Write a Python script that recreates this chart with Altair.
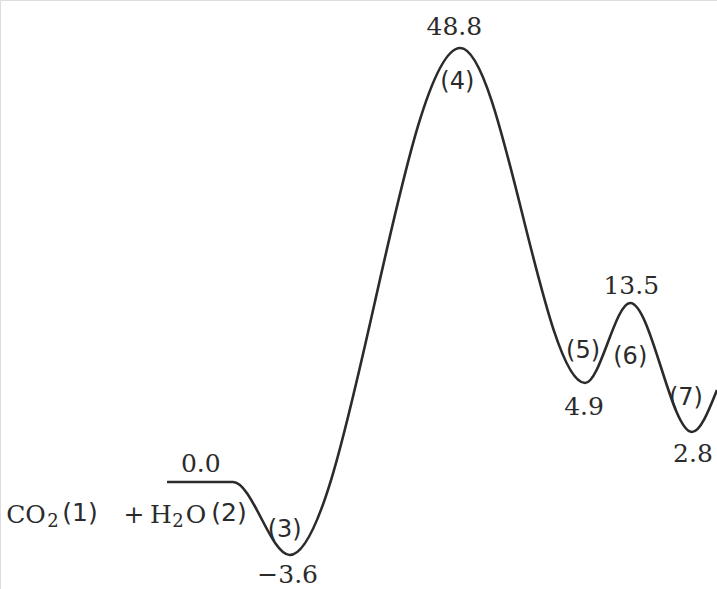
import altair as alt
import pandas as pd

# Stationary points of the energy profile (reaction coordinate, relative energy)
coord = [23.3, 32.5, 40.4, 64.2, 81.6, 87.9, 96.5, 100.0]
energy = [0.0, 0.0, -3.6, 48.8, 4.9, 13.5, 2.8, 4.6]

# Energy labels: where they sit along the coordinate and the value they state
label_coord = [28.0, 40.4, 64.2, 81.6, 87.9, 96.5]
label_energy = [0.0, -3.6, 48.8, 4.9, 13.5, 2.8]
label_shift = [(0, -18), (-2, 20), (-6, -21), (-1, 24), (1, -17), (1, 22)]

# Species numbers attached to the stationary points
species_text = ["(3)", "(4)", "(5)", "(6)", "(7)"]
species_coord = [40.4, 64.2, 81.6, 87.9, 96.5]
species_energy = [-3.6, 48.8, 4.9, 13.5, 2.8]
species_shift = [(-5, -25), (-3, 34), (-2, -32), (0, 54), (-6, -34)]

# Reactant label, written piece by piece: (text, font kind, centre offset)
reactant_parts = [
    ("CO", "serif", -207),
    ("2", "sub", -180),
    ("(1)", "sans", -153),
    ("+", "serif", -99),
    ("H", "serif", -72),
    ("2", "sub", -55),
    ("O", "serif", -37),
    ("(2)", "sans", -4),
]

# The diagram is not drawn to scale: a piecewise linear axis spaces the levels
x_scale = alt.Scale(domain=[0, 100], nice=False, zero=False)
y_scale = alt.Scale(
    domain=[-3.6, 0.0, 2.8, 4.9, 13.5, 48.8],
    range=[555, 482, 432, 383, 303, 48],
)

X = alt.X("coord:Q", scale=x_scale, axis=None)
Y = alt.Y("energy:Q", scale=y_scale, axis=None)

ink = "#2b2b2b"
serif = "DejaVu Serif"
sans = "DejaVu Sans"

profile = pd.DataFrame({"coord": coord, "energy": energy})
curve = alt.Chart(profile).mark_line(
    interpolate="monotone", color=ink, strokeWidth=2.6
).encode(x=X, y=Y)

layers = [curve]

for c, e, (dx, dy) in zip(label_coord, label_energy, label_shift):
    df = pd.DataFrame({"coord": [c], "energy": [e]})
    layers.append(
        alt.Chart(df).mark_text(
            font=serif, fontSize=25, color=ink, dx=dx, dy=dy, baseline="middle"
        ).encode(x=X, y=Y, text=alt.Text("energy:Q", format=".1f"))
    )

for t, c, e, (dx, dy) in zip(species_text, species_coord, species_energy, species_shift):
    df = pd.DataFrame({"coord": [c], "energy": [e], "label": [t]})
    layers.append(
        alt.Chart(df).mark_text(
            font=sans, fontSize=24, color=ink, dx=dx, dy=dy, baseline="middle"
        ).encode(x=X, y=Y, text="label:N")
    )

# Reactants sit just below the left end of the starting level
for text, kind, dx in reactant_parts:
    df = pd.DataFrame({"coord": [coord[1]], "energy": [energy[1]], "label": [text]})
    if kind == "sub":
        style = dict(font=serif, fontSize=18, dy=45)
    elif kind == "sans":
        style = dict(font=sans, fontSize=25, dy=39)
    else:
        style = dict(font=serif, fontSize=25, dy=41)
    layers.append(
        alt.Chart(df).mark_text(
            color=ink, align="center", baseline="alphabetic", dx=dx, **style
        ).encode(x=X, y=Y, text="label:N")
    )

chart = (
    alt.layer(*layers)
    .properties(width=717, height=589, padding=0, autosize=alt.AutoSizeParams(type="none"))
    .configure_view(stroke=None)
    .configure(background="white")
)

chart.save("out.html", embed_options={"renderer": "svg", "actions": False})
